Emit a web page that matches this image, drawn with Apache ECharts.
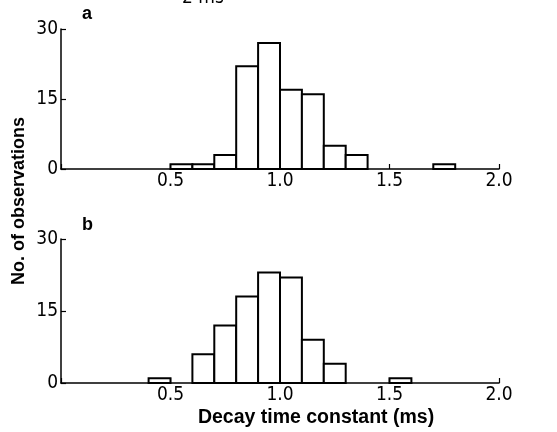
<!DOCTYPE html>
<html>
<head>
    <meta charset="utf-8">
    <script src="https://cdn.jsdelivr.net/npm/echarts@6/dist/echarts.min.js"></script>
    <style>
        html, body { margin: 0; padding: 0; background: #fff; }
        #main { width: 557px; height: 432px; }
    </style>
</head>
<body>
    <div id="main"></div>
    <script>
        // bin edges (ms), 0.1 wide
        var binStartsA = [0.5, 0.6, 0.7, 0.8, 0.9, 1.0, 1.1, 1.2, 1.3, 1.7];
        var countsA = [1, 1, 3, 22, 27, 17, 16, 5, 3, 1];
        var binStartsB = [0.4, 0.6, 0.7, 0.8, 0.9, 1.0, 1.1, 1.2, 1.5];
        var countsB = [1, 6, 12, 18, 23, 22, 9, 4, 1];
        var binWidth = 0.1;
        var xTicks = [0.5, 1.0, 1.5, 2.0];
        var yTicks = [0, 15, 30];

        var font = 'Liberation Sans, Arial, sans-serif';
        var narrow = 'Liberation Sans Narrow, DejaVu Sans Condensed, Liberation Sans, sans-serif';

        function toData(starts, counts) {
            var out = [];
            for (var i = 0; i < starts.length; i++) {
                out.push([starts[i], starts[i] + binWidth, counts[i]]);
            }
            return out;
        }

        function renderBin(params, api) {
            var p0 = api.coord([api.value(0), 0]);
            var p1 = api.coord([api.value(1), api.value(2)]);
            return {
                type: 'rect',
                shape: { x: p0[0], y: p1[1], width: p1[0] - p0[0], height: p0[1] - p1[1] },
                style: { fill: '#fff', stroke: '#000', lineWidth: 2 }
            };
        }

        function xAxisOpt(idx) {
            return {
                type: 'value', gridIndex: idx, min: 0, max: 2, interval: 0.5,
                axisLine: { show: true, lineStyle: { color: '#000', width: 1.5 } },
                axisTick: { show: true, inside: true, length: 5, lineStyle: { color: '#000', width: 1.2 } },
                splitLine: { show: false },
                axisLabel: {
                    color: '#000', fontFamily: narrow, fontSize: 19, margin: 3,
                    formatter: function (v) { return xTicks.indexOf(v) >= 0 ? v.toFixed(1) : ''; }
                }
            };
        }

        function yAxisOpt(idx) {
            return {
                type: 'value', gridIndex: idx, min: 0, max: 30, interval: 15,
                axisLine: { show: true, lineStyle: { color: '#000', width: 1.5 } },
                axisTick: { show: true, inside: true, length: 5, lineStyle: { color: '#000', width: 1.2 } },
                splitLine: { show: false },
                axisLabel: {
                    color: '#000', fontFamily: narrow, fontSize: 19, margin: 3,
                    formatter: function (v) { return yTicks.indexOf(v) >= 0 ? String(v) : ''; }
                }
            };
        }

        var myChart = echarts.init(document.getElementById('main'), null, { renderer: 'canvas' });

        var option = {
            backgroundColor: '#fff',
            animation: false,
            grid: [
                { left: 61, top: 29, width: 438, height: 140 },
                { left: 61, top: 239, width: 438, height: 144 }
            ],
            xAxis: [xAxisOpt(0), xAxisOpt(1)],
            yAxis: [yAxisOpt(0), yAxisOpt(1)],
            series: [
                { type: 'custom', xAxisIndex: 0, yAxisIndex: 0, renderItem: renderBin, data: toData(binStartsA, countsA) },
                { type: 'custom', xAxisIndex: 1, yAxisIndex: 1, renderItem: renderBin, data: toData(binStartsB, countsB) }
            ],
            graphic: [
                { type: 'text', left: 82, top: 5, style: { text: 'a', fontFamily: font, fontSize: 18, fontWeight: 'bold', fill: '#000' } },
                { type: 'text', left: 82, top: 216, style: { text: 'b', fontFamily: font, fontSize: 18, fontWeight: 'bold', fill: '#000' } },
                { type: 'text', x: 182, y: 8, style: { text: '2 ms', fontFamily: narrow, fontSize: 19, fill: '#000', verticalAlign: 'bottom' } },
                {
                    type: 'text', x: 19, y: 201, rotation: Math.PI / 2,
                    style: { text: 'No. of observations', fontFamily: font, fontSize: 18, fontWeight: 'bold', fill: '#000', align: 'center', verticalAlign: 'middle' }
                },
                {
                    type: 'text', x: 316, y: 418,
                    style: { text: 'Decay time constant (ms)', fontFamily: font, fontSize: 19.5, fontWeight: 'bold', fill: '#000', align: 'center', verticalAlign: 'middle' }
                }
            ]
        };
        myChart.setOption(option);
    </script>
</body>
</html>
